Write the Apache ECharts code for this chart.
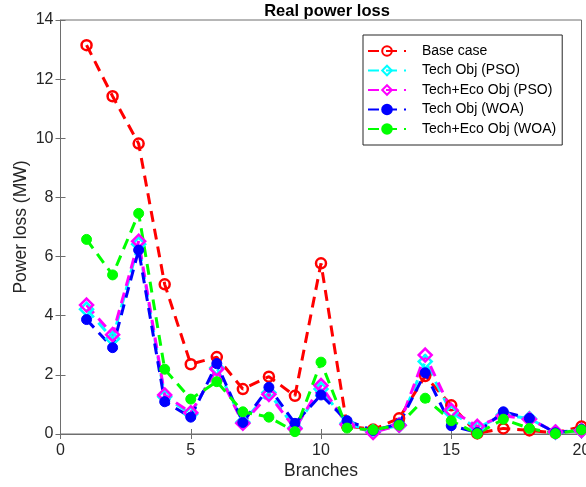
<!DOCTYPE html>
<html>
<head>
<meta charset="utf-8">
<script src="https://cdn.jsdelivr.net/npm/echarts@6/dist/echarts.min.js"></script>
<style>html,body{margin:0;padding:0;background:#fff}#c{width:586px;height:487px}</style>
</head>
<body>
<div id="c"></div>
<script>
var branches = [1,2,3,4,5,6,7,8,9,10,11,12,13,14,15,16,17,18,19,20];
var baseCase   = [13.15,11.42,9.82,5.06,2.36,2.60,1.52,1.94,1.29,5.77,0.27,0.15,0.53,1.96,0.97,0.02,0.19,0.12,0.04,0.25];
var techPSO    = [4.22,3.22,6.42,1.26,0.68,2.24,0.40,1.40,0.20,1.52,0.36,0.08,0.30,2.45,0.72,0.20,0.65,0.52,0.06,0.12];
var techEcoPSO = [4.36,3.36,6.52,1.32,0.72,2.20,0.36,1.34,0.18,1.64,0.32,0.05,0.30,2.67,0.80,0.26,0.62,0.50,0.07,0.12];
var techWOA    = [3.87,2.92,6.22,1.09,0.57,2.38,0.39,1.58,0.36,1.32,0.45,0.12,0.34,2.07,0.28,0.05,0.75,0.53,0.04,0.16];
var techEcoWOA = [6.58,5.38,7.46,2.19,1.18,1.77,0.75,0.57,0.08,2.43,0.20,0.14,0.30,1.21,0.45,0.01,0.50,0.19,0.01,0.14];
var xTicks = [0,5,10,15,20];
var yTicks = [0,2,4,6,8,10,12,14];

function pairs(v){ return branches.map(function(b,i){ return [b, v[i]]; }); }

var font = 'Liberation Sans, Arial, Helvetica, sans-serif';
var axisGray = '#262626';
var lineGray = '#6e6e6e';

function mkSeries(name, vals, color, symbol, filled, size){
  return {
    name: name, type: 'line', data: pairs(vals), clip: false,
    symbol: symbol, symbolSize: size,
    showAllSymbol: true,
    lineStyle: {color: color, width: 3, type: [11,7]},
    itemStyle: filled ? {color: color, borderColor: color, borderWidth: 1}
                      : {color: 'rgba(255,255,255,0)', borderColor: color, borderWidth: 2.5},
    emphasis: {disabled: true},
    animation: false
  };
}

var chart = echarts.init(document.getElementById('c'), null, {renderer: 'canvas'});
chart.setOption({
  backgroundColor: '#fff',
  animation: false,
  title: {
    text: 'Real power loss', left: 322, top: -2, textAlign: 'center',
    textStyle: {fontFamily: font, fontSize: 16.5, fontWeight: 'bold', color: '#000'}
  },
  legend: {
    orient: 'vertical', left: 363, top: 35,
    backgroundColor: '#fff', borderColor: axisGray, borderWidth: 1,
    padding: [9, 6, 9, 4], itemGap: 5.5, itemWidth: 38, itemHeight: 12,
    textStyle: {fontFamily: font, fontSize: 14, color: '#000', padding: [0,0,0,11]},
    data: ['Base case','Tech Obj (PSO)','Tech+Eco Obj (PSO)','Tech Obj (WOA)','Tech+Eco Obj (WOA)']
  },
  grid: {left: 60.5, right: 4.5, top: 20, bottom: 53, outerBoundsMode: 'none', containLabel: false,
    show: true, borderColor: lineGray, borderWidth: 1, backgroundColor: '#fff'},
  xAxis: [{
    type: 'value', min: 0, max: 20, interval: 5,
    name: 'Branches', nameLocation: 'middle', nameGap: 28, nameMoveOverlap: false,
    nameTextStyle: {fontFamily: font, fontSize: 17.5, color: axisGray},
    axisLine: {show: true, lineStyle: {color: lineGray}},
    axisTick: {show: true, inside: true, length: 5, lineStyle: {color: lineGray}},
    axisLabel: {fontFamily: font, fontSize: 16, color: axisGray, margin: 9, hideOverlap: false,
      formatter: function(v){ return xTicks.indexOf(v) >= 0 ? String(v) : ''; }},
    splitLine: {show: false}
  },{
    type: 'value', min: 0, max: 20, interval: 5, position: 'top',
    axisLine: {show: false}, axisTick: {show: true, inside: true, length: 5, lineStyle: {color: lineGray}},
    axisLabel: {show: false}, splitLine: {show: false}
  }],
  yAxis: [{
    type: 'value', min: 0, max: 14, interval: 2,
    name: 'Power loss (MW)', nameLocation: 'middle', nameGap: 30, nameMoveOverlap: false,
    nameTextStyle: {fontFamily: font, fontSize: 17.5, color: axisGray},
    axisLine: {show: true, lineStyle: {color: lineGray}},
    axisTick: {show: true, inside: true, length: 5, lineStyle: {color: lineGray}},
    axisLabel: {fontFamily: font, fontSize: 16, color: axisGray, margin: 7,
      formatter: function(v){ return yTicks.indexOf(v) >= 0 ? String(v) : ''; }},
    splitLine: {show: false}
  },{
    type: 'value', min: 0, max: 14, interval: 2, position: 'right',
    axisLine: {show: false}, axisTick: {show: true, inside: true, length: 5, lineStyle: {color: lineGray}},
    axisLabel: {show: false}, splitLine: {show: false}
  }],
  series: [
    mkSeries('Base case', baseCase, '#ff0000', 'circle', false, 10),
    mkSeries('Tech Obj (PSO)', techPSO, '#00ffff', 'diamond', false, 13),
    mkSeries('Tech+Eco Obj (PSO)', techEcoPSO, '#ff00ff', 'diamond', false, 13),
    mkSeries('Tech Obj (WOA)', techWOA, '#0000ff', 'circle', true, 10),
    mkSeries('Tech+Eco Obj (WOA)', techEcoWOA, '#00ff00', 'circle', true, 10)
  ]
});
</script>
</body>
</html>
